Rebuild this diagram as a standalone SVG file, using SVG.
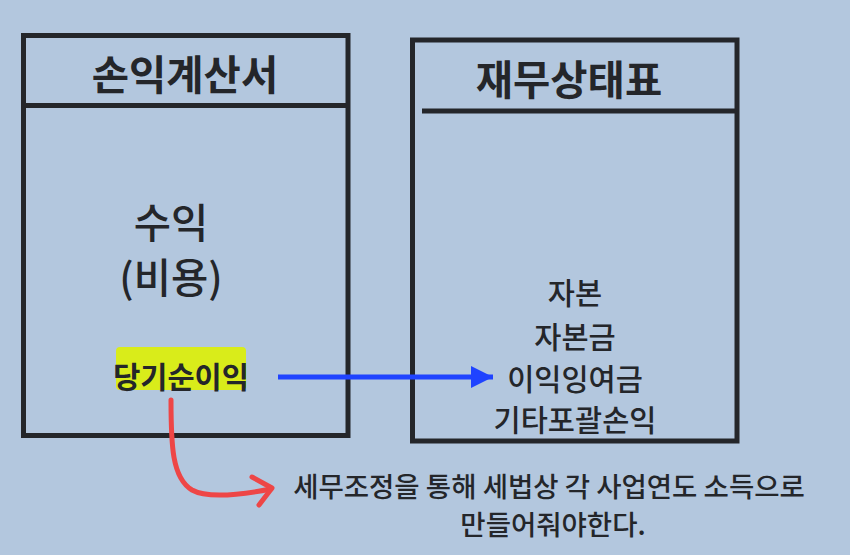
<svg xmlns="http://www.w3.org/2000/svg" width="850" height="555" viewBox="0 0 850 555">
<defs>
<style>
.box{fill:none;stroke:#24262a;stroke-width:5}
.t{font-family:"Noto Sans CJK KR","Noto Sans",sans-serif;fill:#24262a;text-anchor:middle}
.h{font-size:40.5px;font-weight:700}
.m{font-size:40.5px;font-weight:500}
.s{font-size:29.5px;font-weight:500}
.b{font-size:27.5px;font-weight:500}
</style>
<marker id="ab" viewBox="0 0 10 10" refX="10" refY="5" markerWidth="4.4" markerHeight="4.4" orient="auto" markerUnits="strokeWidth">
<path d="M0,0 L10,5 L0,10 z" fill="#1f43ff"/>
</marker>
</defs>
<rect width="850" height="555" fill="#b3c7de"/>
<g id="income-statement">
<rect class="box" x="23.5" y="35.5" width="324.5" height="400"/>
<line class="box" x1="23.5" y1="105.5" x2="348" y2="105.5"/>
<text class="t h" x="185" y="90">손익계산서</text>
<text class="t m" x="171" y="238">수익</text>
<text class="t m" x="171" y="293">(비용)</text>
<rect x="116" y="347" width="130" height="43" rx="4" fill="#d9ec1a"/>
<text class="t" x="181" y="388" style="font-size:29.5px;font-weight:700">당기순이익</text>
</g>
<g id="balance-sheet">
<rect class="box" x="412.5" y="40" width="324.5" height="401"/>
<line class="box" x1="422" y1="111" x2="737" y2="111"/>
<text class="t h" x="569" y="95">재무상태표</text>
<text class="t s" x="575" y="304">자본</text>
<text class="t s" x="575" y="348">자본금</text>
<text class="t s" x="575" y="390">이익잉여금</text>
<text class="t s" x="575" y="431">기타포괄손익</text>
</g>
<g id="note">
<text class="t b" x="549" y="497">세무조정을 통해 세법상 각 사업연도 소득으로</text>
<text class="t b" x="553" y="535">만들어줘야한다.</text>
</g>
<g id="connectors">
<line x1="278" y1="377" x2="493" y2="377" stroke="#1f43ff" stroke-width="5" marker-end="url(#ab)"/>
<path d="M171,400 C171,445 172,478 192,490 C208,499 240,495 271,489" fill="none" stroke="#ee4646" stroke-width="5" stroke-linecap="round"/>
<path d="M252,477 L272,488 L259,505" fill="none" stroke="#ee4646" stroke-width="5" stroke-linecap="round" stroke-linejoin="round"/>
</g>
</svg>
